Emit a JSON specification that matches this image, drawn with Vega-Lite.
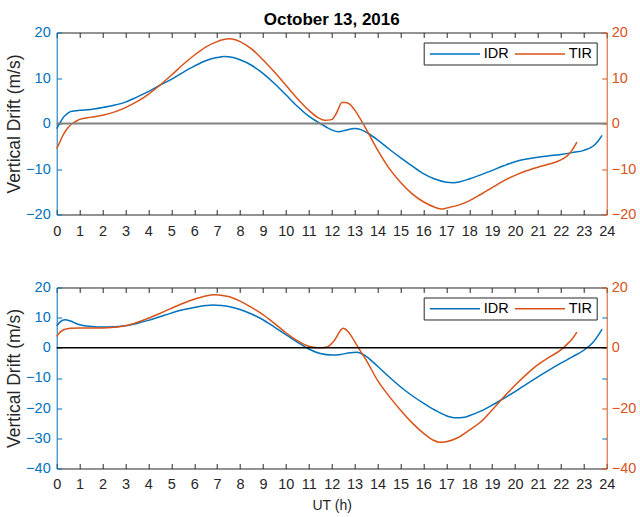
{
  "$schema": "https://vega.github.io/schema/vega-lite/v6.json",
  "padding": {"left": 4.7, "top": 10.5, "right": 2, "bottom": 2},
  "background": "white",
  "config": {
    "font": "Liberation Sans",
    "view": {"stroke": null},
    "axis": {"grid": false, "labelFontSize": 14.5, "titleFontSize": 14, "titleFontWeight": "normal", "titleColor": "#262626", "domainWidth": 1, "tickWidth": 1, "labelFont": "Liberation Sans", "titleFont": "Liberation Sans"}
  },
  "datasets": {
    "d": [
      {"p":"a","s":"IDR","h":0,"v":-1.1},{"p":"a","s":"IDR","h":0.15,"v":0.2},{"p":"a","s":"IDR","h":0.3,"v":1.4},{"p":"a","s":"IDR","h":0.45,"v":2.1},{"p":"a","s":"IDR","h":0.6,"v":2.6},{"p":"a","s":"IDR","h":0.8,"v":2.8},{"p":"a","s":"IDR","h":1,"v":2.9},{"p":"a","s":"IDR","h":1.5,"v":3.1},{"p":"a","s":"IDR","h":2,"v":3.5},{"p":"a","s":"IDR","h":2.5,"v":4.0},{"p":"a","s":"IDR","h":3,"v":4.7},{"p":"a","s":"IDR","h":3.5,"v":5.8},{"p":"a","s":"IDR","h":4,"v":7.0},{"p":"a","s":"IDR","h":4.5,"v":8.4},{"p":"a","s":"IDR","h":5,"v":9.7},{"p":"a","s":"IDR","h":5.5,"v":11.2},{"p":"a","s":"IDR","h":6,"v":12.6},{"p":"a","s":"IDR","h":6.5,"v":13.8},{"p":"a","s":"IDR","h":7,"v":14.5},{"p":"a","s":"IDR","h":7.3,"v":14.7},{"p":"a","s":"IDR","h":7.7,"v":14.5},{"p":"a","s":"IDR","h":8,"v":14.0},{"p":"a","s":"IDR","h":8.5,"v":12.8},{"p":"a","s":"IDR","h":9,"v":11.0},{"p":"a","s":"IDR","h":9.5,"v":8.8},{"p":"a","s":"IDR","h":10,"v":6.3},{"p":"a","s":"IDR","h":10.5,"v":3.8},{"p":"a","s":"IDR","h":11,"v":1.6},{"p":"a","s":"IDR","h":11.5,"v":0.0},{"p":"a","s":"IDR","h":12,"v":-1.4},{"p":"a","s":"IDR","h":12.3,"v":-1.8},{"p":"a","s":"IDR","h":12.6,"v":-1.5},{"p":"a","s":"IDR","h":13,"v":-1.1},{"p":"a","s":"IDR","h":13.3,"v":-1.4},{"p":"a","s":"IDR","h":13.6,"v":-2.2},{"p":"a","s":"IDR","h":14,"v":-3.6},{"p":"a","s":"IDR","h":14.5,"v":-5.6},{"p":"a","s":"IDR","h":15,"v":-7.5},{"p":"a","s":"IDR","h":15.5,"v":-9.3},{"p":"a","s":"IDR","h":16,"v":-11.0},{"p":"a","s":"IDR","h":16.5,"v":-12.2},{"p":"a","s":"IDR","h":17,"v":-12.9},{"p":"a","s":"IDR","h":17.3,"v":-13.0},{"p":"a","s":"IDR","h":17.6,"v":-12.8},{"p":"a","s":"IDR","h":18,"v":-12.2},{"p":"a","s":"IDR","h":18.5,"v":-11.3},{"p":"a","s":"IDR","h":19,"v":-10.3},{"p":"a","s":"IDR","h":19.5,"v":-9.3},{"p":"a","s":"IDR","h":20,"v":-8.4},{"p":"a","s":"IDR","h":20.5,"v":-7.8},{"p":"a","s":"IDR","h":21,"v":-7.4},{"p":"a","s":"IDR","h":21.5,"v":-7.1},{"p":"a","s":"IDR","h":22,"v":-6.8},{"p":"a","s":"IDR","h":22.5,"v":-6.4},{"p":"a","s":"IDR","h":23,"v":-5.9},{"p":"a","s":"IDR","h":23.4,"v":-5.0},{"p":"a","s":"IDR","h":23.6,"v":-4.0},{"p":"a","s":"IDR","h":23.8,"v":-2.6},
      {"p":"a","s":"TIR","h":0,"v":-5.5},{"p":"a","s":"TIR","h":0.1,"v":-4.5},{"p":"a","s":"TIR","h":0.25,"v":-2.8},{"p":"a","s":"TIR","h":0.45,"v":-1.2},{"p":"a","s":"TIR","h":0.65,"v":-0.1},{"p":"a","s":"TIR","h":0.85,"v":0.5},{"p":"a","s":"TIR","h":1,"v":0.9},{"p":"a","s":"TIR","h":1.5,"v":1.4},{"p":"a","s":"TIR","h":2,"v":1.8},{"p":"a","s":"TIR","h":2.5,"v":2.5},{"p":"a","s":"TIR","h":3,"v":3.5},{"p":"a","s":"TIR","h":3.5,"v":4.8},{"p":"a","s":"TIR","h":4,"v":6.4},{"p":"a","s":"TIR","h":4.5,"v":8.4},{"p":"a","s":"TIR","h":5,"v":10.6},{"p":"a","s":"TIR","h":5.5,"v":12.9},{"p":"a","s":"TIR","h":6,"v":15.0},{"p":"a","s":"TIR","h":6.5,"v":16.8},{"p":"a","s":"TIR","h":7,"v":18.0},{"p":"a","s":"TIR","h":7.5,"v":18.6},{"p":"a","s":"TIR","h":7.8,"v":18.4},{"p":"a","s":"TIR","h":8,"v":18.0},{"p":"a","s":"TIR","h":8.5,"v":16.4},{"p":"a","s":"TIR","h":9,"v":14.0},{"p":"a","s":"TIR","h":9.5,"v":11.3},{"p":"a","s":"TIR","h":10,"v":8.4},{"p":"a","s":"TIR","h":10.5,"v":5.5},{"p":"a","s":"TIR","h":11,"v":2.9},{"p":"a","s":"TIR","h":11.4,"v":1.3},{"p":"a","s":"TIR","h":11.7,"v":0.7},{"p":"a","s":"TIR","h":12,"v":0.85},{"p":"a","s":"TIR","h":12.2,"v":2.2},{"p":"a","s":"TIR","h":12.45,"v":4.6},{"p":"a","s":"TIR","h":12.6,"v":4.6},{"p":"a","s":"TIR","h":12.8,"v":4.2},{"p":"a","s":"TIR","h":13,"v":3.0},{"p":"a","s":"TIR","h":13.25,"v":1.0},{"p":"a","s":"TIR","h":13.5,"v":-1.2},{"p":"a","s":"TIR","h":14,"v":-5.8},{"p":"a","s":"TIR","h":14.5,"v":-9.8},{"p":"a","s":"TIR","h":15,"v":-12.9},{"p":"a","s":"TIR","h":15.5,"v":-15.4},{"p":"a","s":"TIR","h":16,"v":-17.2},{"p":"a","s":"TIR","h":16.5,"v":-18.4},{"p":"a","s":"TIR","h":16.8,"v":-18.8},{"p":"a","s":"TIR","h":17,"v":-18.6},{"p":"a","s":"TIR","h":17.5,"v":-18.0},{"p":"a","s":"TIR","h":18,"v":-17.0},{"p":"a","s":"TIR","h":18.5,"v":-15.6},{"p":"a","s":"TIR","h":19,"v":-14.1},{"p":"a","s":"TIR","h":19.5,"v":-12.6},{"p":"a","s":"TIR","h":20,"v":-11.4},{"p":"a","s":"TIR","h":20.5,"v":-10.4},{"p":"a","s":"TIR","h":21,"v":-9.6},{"p":"a","s":"TIR","h":21.5,"v":-8.9},{"p":"a","s":"TIR","h":22,"v":-8.0},{"p":"a","s":"TIR","h":22.3,"v":-7.0},{"p":"a","s":"TIR","h":22.5,"v":-5.8},{"p":"a","s":"TIR","h":22.7,"v":-4.1},
      {"p":"b","s":"IDR","h":0,"v":7.3},{"p":"b","s":"IDR","h":0.15,"v":8.6},{"p":"b","s":"IDR","h":0.35,"v":9.3},{"p":"b","s":"IDR","h":0.6,"v":8.9},{"p":"b","s":"IDR","h":0.9,"v":7.9},{"p":"b","s":"IDR","h":1.2,"v":7.3},{"p":"b","s":"IDR","h":1.5,"v":7.1},{"p":"b","s":"IDR","h":2,"v":6.9},{"p":"b","s":"IDR","h":2.5,"v":7.0},{"p":"b","s":"IDR","h":3,"v":7.3},{"p":"b","s":"IDR","h":3.5,"v":8.1},{"p":"b","s":"IDR","h":4,"v":9.1},{"p":"b","s":"IDR","h":4.5,"v":10.3},{"p":"b","s":"IDR","h":5,"v":11.5},{"p":"b","s":"IDR","h":5.5,"v":12.6},{"p":"b","s":"IDR","h":6,"v":13.4},{"p":"b","s":"IDR","h":6.5,"v":14.0},{"p":"b","s":"IDR","h":6.8,"v":14.2},{"p":"b","s":"IDR","h":7.2,"v":14.0},{"p":"b","s":"IDR","h":7.5,"v":13.7},{"p":"b","s":"IDR","h":8,"v":12.7},{"p":"b","s":"IDR","h":8.5,"v":11.2},{"p":"b","s":"IDR","h":9,"v":9.3},{"p":"b","s":"IDR","h":9.5,"v":6.9},{"p":"b","s":"IDR","h":10,"v":4.4},{"p":"b","s":"IDR","h":10.5,"v":1.9},{"p":"b","s":"IDR","h":11,"v":-0.4},{"p":"b","s":"IDR","h":11.5,"v":-1.9},{"p":"b","s":"IDR","h":12,"v":-2.4},{"p":"b","s":"IDR","h":12.4,"v":-2.2},{"p":"b","s":"IDR","h":12.8,"v":-1.6},{"p":"b","s":"IDR","h":13.1,"v":-1.5},{"p":"b","s":"IDR","h":13.5,"v":-2.8},{"p":"b","s":"IDR","h":14,"v":-6.1},{"p":"b","s":"IDR","h":14.5,"v":-9.6},{"p":"b","s":"IDR","h":15,"v":-12.9},{"p":"b","s":"IDR","h":15.5,"v":-15.8},{"p":"b","s":"IDR","h":16,"v":-18.3},{"p":"b","s":"IDR","h":16.5,"v":-20.6},{"p":"b","s":"IDR","h":17,"v":-22.5},{"p":"b","s":"IDR","h":17.4,"v":-23.2},{"p":"b","s":"IDR","h":17.8,"v":-23.0},{"p":"b","s":"IDR","h":18,"v":-22.5},{"p":"b","s":"IDR","h":18.5,"v":-21.0},{"p":"b","s":"IDR","h":19,"v":-19.0},{"p":"b","s":"IDR","h":19.5,"v":-16.8},{"p":"b","s":"IDR","h":20,"v":-14.5},{"p":"b","s":"IDR","h":20.5,"v":-12.0},{"p":"b","s":"IDR","h":21,"v":-9.6},{"p":"b","s":"IDR","h":21.5,"v":-7.3},{"p":"b","s":"IDR","h":22,"v":-5.1},{"p":"b","s":"IDR","h":22.5,"v":-3.0},{"p":"b","s":"IDR","h":23,"v":-0.8},{"p":"b","s":"IDR","h":23.4,"v":1.8},{"p":"b","s":"IDR","h":23.6,"v":3.8},{"p":"b","s":"IDR","h":23.8,"v":6.2},
      {"p":"b","s":"TIR","h":0,"v":3.8},{"p":"b","s":"TIR","h":0.15,"v":5.2},{"p":"b","s":"TIR","h":0.35,"v":6.1},{"p":"b","s":"TIR","h":0.6,"v":6.5},{"p":"b","s":"TIR","h":1,"v":6.6},{"p":"b","s":"TIR","h":1.5,"v":6.6},{"p":"b","s":"TIR","h":2,"v":6.6},{"p":"b","s":"TIR","h":2.5,"v":6.8},{"p":"b","s":"TIR","h":3,"v":7.3},{"p":"b","s":"TIR","h":3.5,"v":8.4},{"p":"b","s":"TIR","h":4,"v":9.8},{"p":"b","s":"TIR","h":4.5,"v":11.4},{"p":"b","s":"TIR","h":5,"v":13.1},{"p":"b","s":"TIR","h":5.5,"v":14.7},{"p":"b","s":"TIR","h":6,"v":16.1},{"p":"b","s":"TIR","h":6.5,"v":17.2},{"p":"b","s":"TIR","h":6.9,"v":17.6},{"p":"b","s":"TIR","h":7.3,"v":17.3},{"p":"b","s":"TIR","h":7.5,"v":17.0},{"p":"b","s":"TIR","h":8,"v":15.5},{"p":"b","s":"TIR","h":8.5,"v":13.4},{"p":"b","s":"TIR","h":9,"v":11.0},{"p":"b","s":"TIR","h":9.5,"v":8.1},{"p":"b","s":"TIR","h":10,"v":5.0},{"p":"b","s":"TIR","h":10.5,"v":2.4},{"p":"b","s":"TIR","h":11,"v":0.5},{"p":"b","s":"TIR","h":11.4,"v":0.0},{"p":"b","s":"TIR","h":11.8,"v":0.3},{"p":"b","s":"TIR","h":12.1,"v":2.3},{"p":"b","s":"TIR","h":12.5,"v":6.5},{"p":"b","s":"TIR","h":12.7,"v":5.5},{"p":"b","s":"TIR","h":12.9,"v":3.4},{"p":"b","s":"TIR","h":13.1,"v":0.8},{"p":"b","s":"TIR","h":13.5,"v":-4.0},{"p":"b","s":"TIR","h":14,"v":-10.8},{"p":"b","s":"TIR","h":14.5,"v":-16.0},{"p":"b","s":"TIR","h":15,"v":-20.6},{"p":"b","s":"TIR","h":15.5,"v":-24.8},{"p":"b","s":"TIR","h":16,"v":-28.3},{"p":"b","s":"TIR","h":16.4,"v":-30.5},{"p":"b","s":"TIR","h":16.7,"v":-31.3},{"p":"b","s":"TIR","h":17,"v":-31.1},{"p":"b","s":"TIR","h":17.5,"v":-29.8},{"p":"b","s":"TIR","h":18,"v":-27.3},{"p":"b","s":"TIR","h":18.5,"v":-24.6},{"p":"b","s":"TIR","h":19,"v":-20.6},{"p":"b","s":"TIR","h":19.5,"v":-16.4},{"p":"b","s":"TIR","h":20,"v":-12.4},{"p":"b","s":"TIR","h":20.5,"v":-8.8},{"p":"b","s":"TIR","h":21,"v":-5.6},{"p":"b","s":"TIR","h":21.5,"v":-3.1},{"p":"b","s":"TIR","h":22,"v":-0.7},{"p":"b","s":"TIR","h":22.3,"v":1.4},{"p":"b","s":"TIR","h":22.5,"v":3.0},{"p":"b","s":"TIR","h":22.7,"v":5.2}
    ]
  },
  "spacing": 42,
  "resolve": {"legend": {"color": "independent"}, "scale": {"color": "independent"}},
  "vconcat": [
    {
      "width": 550,
      "height": 182,
      "title": {"text": "October 13, 2016", "fontSize": 17, "fontWeight": "bold", "color": "#000", "offset": -4, "frame": "group", "anchor": "middle", "font": "Liberation Sans"},
      "data": {"name": "d"},
      "transform": [{"filter": "datum.p === 'a'"}],
      "resolve": {"axis": {"y": "independent", "x": "independent"}},
      "layer": [
        {
          "mark": {"type": "line", "strokeWidth": 1.5, "interpolate": "monotone"},
          "encoding": {
            "x": {"field": "h", "type": "quantitative", "scale": {"domain": [0, 24], "nice": false, "zero": false}, "axis": {"orient": "bottom", "values": [0,1,2,3,4,5,6,7,8,9,10,11,12,13,14,15,16,17,18,19,20,21,22,23,24], "title": null, "ticks": false, "labelColor": "#262626", "domainColor": "#262626", "labelPadding": 9.5, "labelFlush": false}},
            "y": {"field": "v", "type": "quantitative", "scale": {"domain": [-20, 20], "nice": false}, "axis": {"orient": "left", "values": [-20,-10,0,10,20], "title": "Vertical Drift (m/s)", "titleFontSize": 17.5, "ticks": false, "labelColor": "#0072BD", "domainColor": "#0072BD", "labelPadding": 6.5, "titlePadding": 2}},
            "color": {"field": "s", "type": "nominal", "scale": {"domain": ["IDR", "TIR"], "range": ["#0072BD", "#D95319"]}, "legend": {"orient": "none", "legendX": 367, "legendY": 10, "direction": "horizontal", "title": null, "symbolType": "M-1,0H9", "symbolSize": 100, "symbolStrokeWidth": 1.5, "labelFontSize": 14.5, "labelColor": "#000", "labelFont": "Liberation Sans", "strokeColor": "#262626", "fillColor": "white", "padding": 4, "columnPadding": 3, "labelOffset": 41.5}}
          }
        },
        {
          "mark": {"type": "line", "opacity": 0},
          "encoding": {
            "x": {"field": "h", "type": "quantitative", "axis": {"orient": "top", "labels": false, "ticks": false, "title": null, "domainColor": "#262626"}},
            "y": {"field": "v", "type": "quantitative", "axis": {"orient": "right", "values": [-20,-10,0,10,20], "title": null, "ticks": false, "labelColor": "#D95319", "domainColor": "#D95319", "labelPadding": 4.5}}
          }
        },
        {
          "mark": {"type": "line", "opacity": 0},
          "encoding": {
            "x": {"field": "h", "type": "quantitative", "axis": {"orient": "bottom", "offset": -5, "values": [0,1,2,3,4,5,6,7,8,9,10,11,12,13,14,15,16,17,18,19,20,21,22,23,24], "domain": false, "labels": false, "title": null, "ticks": true, "tickSize": 5, "tickColor": "#262626"}},
            "y": {"field": "v", "type": "quantitative", "axis": {"orient": "left", "offset": -5, "values": [-20,-10,0,10,20], "domain": false, "labels": false, "title": null, "ticks": true, "tickSize": 5, "tickColor": "#0072BD"}}
          }
        },
        {
          "mark": {"type": "line", "opacity": 0},
          "encoding": {
            "x": {"field": "h", "type": "quantitative", "axis": {"orient": "top", "offset": -5, "values": [0,1,2,3,4,5,6,7,8,9,10,11,12,13,14,15,16,17,18,19,20,21,22,23,24], "domain": false, "labels": false, "title": null, "ticks": true, "tickSize": 5, "tickColor": "#262626"}},
            "y": {"field": "v", "type": "quantitative", "axis": {"orient": "right", "offset": -5, "values": [-20,-10,0,10,20], "domain": false, "labels": false, "title": null, "ticks": true, "tickSize": 5, "tickColor": "#D95319"}}
          }
        },
        {
          "data": {"values": [{}]},
          "mark": {"type": "rule", "color": "#808080", "strokeWidth": 2},
          "encoding": {"y": {"datum": 0, "type": "quantitative", "axis": null}}
        }
      ]
    },
    {
      "width": 550,
      "height": 181,
      "data": {"name": "d"},
      "transform": [{"filter": "datum.p === 'b'"}],
      "resolve": {"axis": {"y": "independent", "x": "independent"}},
      "layer": [
        {
          "mark": {"type": "line", "strokeWidth": 1.5, "interpolate": "monotone"},
          "encoding": {
            "x": {"field": "h", "type": "quantitative", "scale": {"domain": [0, 24], "nice": false, "zero": false}, "axis": {"orient": "bottom", "values": [0,1,2,3,4,5,6,7,8,9,10,11,12,13,14,15,16,17,18,19,20,21,22,23,24], "title": "UT (h)", "ticks": false, "labelColor": "#262626", "domainColor": "#262626", "labelPadding": 9.5, "labelFlush": false, "titlePadding": 7}},
            "y": {"field": "v", "type": "quantitative", "scale": {"domain": [-40, 20], "nice": false}, "axis": {"orient": "left", "values": [-40,-30,-20,-10,0,10,20], "title": "Vertical Drift (m/s)", "titleFontSize": 17.5, "ticks": false, "labelColor": "#0072BD", "domainColor": "#0072BD", "labelPadding": 6.5, "titlePadding": 2}},
            "color": {"field": "s", "type": "nominal", "scale": {"domain": ["IDR", "TIR"], "range": ["#0072BD", "#D95319"]}, "legend": {"orient": "none", "legendX": 367, "legendY": 10, "direction": "horizontal", "title": null, "symbolType": "M-1,0H9", "symbolSize": 100, "symbolStrokeWidth": 1.5, "labelFontSize": 14.5, "labelColor": "#000", "labelFont": "Liberation Sans", "strokeColor": "#262626", "fillColor": "white", "padding": 4, "columnPadding": 3, "labelOffset": 41.5}}
          }
        },
        {
          "mark": {"type": "line", "opacity": 0},
          "encoding": {
            "x": {"field": "h", "type": "quantitative", "axis": {"orient": "top", "labels": false, "ticks": false, "title": null, "domainColor": "#262626"}},
            "y": {"field": "v", "type": "quantitative", "axis": {"orient": "right", "values": [-40,-20,0,20], "title": null, "ticks": false, "labelColor": "#D95319", "domainColor": "#D95319", "labelPadding": 4.5}}
          }
        },
        {
          "mark": {"type": "line", "opacity": 0},
          "encoding": {
            "x": {"field": "h", "type": "quantitative", "axis": {"orient": "bottom", "offset": -5, "values": [0,1,2,3,4,5,6,7,8,9,10,11,12,13,14,15,16,17,18,19,20,21,22,23,24], "domain": false, "labels": false, "title": null, "ticks": true, "tickSize": 5, "tickColor": "#262626"}},
            "y": {"field": "v", "type": "quantitative", "axis": {"orient": "left", "offset": -5, "values": [-40,-30,-20,-10,0,10,20], "domain": false, "labels": false, "title": null, "ticks": true, "tickSize": 5, "tickColor": "#0072BD"}}
          }
        },
        {
          "mark": {"type": "line", "opacity": 0},
          "encoding": {
            "x": {"field": "h", "type": "quantitative", "axis": {"orient": "top", "offset": -5, "values": [0,1,2,3,4,5,6,7,8,9,10,11,12,13,14,15,16,17,18,19,20,21,22,23,24], "domain": false, "labels": false, "title": null, "ticks": true, "tickSize": 5, "tickColor": "#262626"}},
            "y": {"field": "v", "type": "quantitative", "axis": {"orient": "right", "offset": -5, "values": [-40,-30,-20,-10,0,10,20], "domain": false, "labels": false, "title": null, "ticks": true, "tickSize": 5, "tickColor": {"condition": {"test": "datum.value % 20 === 0", "value": "#D95319"}, "value": "#0072BD"}}}
          }
        },
        {
          "data": {"values": [{}]},
          "mark": {"type": "rule", "color": "#000000", "strokeWidth": 1.5},
          "encoding": {"y": {"datum": 0, "type": "quantitative", "axis": null}}
        }
      ]
    }
  ]
}
